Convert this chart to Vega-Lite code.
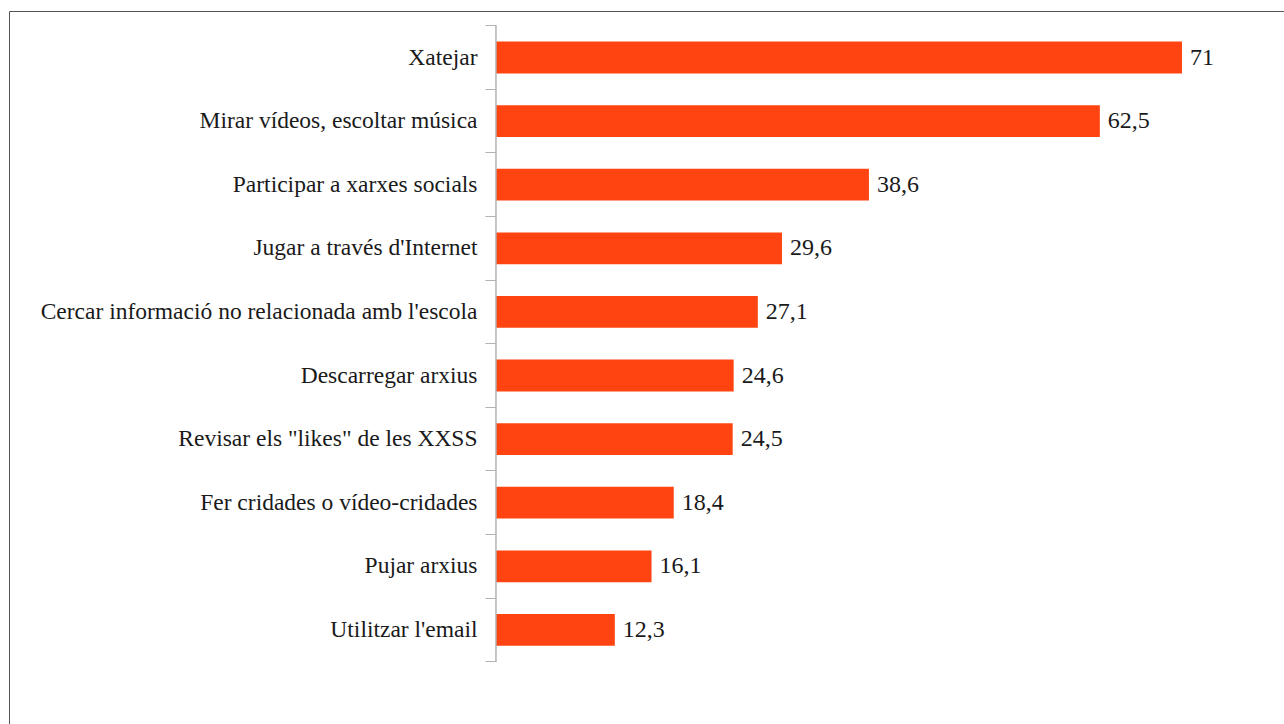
{
  "$schema": "https://vega.github.io/schema/vega-lite/v6.json",
  "autosize": {"type": "none"},
  "padding": {"left": 9, "top": 11, "right": -3, "bottom": -3},
  "width": 1278,
  "height": 716,
  "background": "white",
  "config": {
    "view": {"stroke": "#555555", "strokeWidth": 1},
    "locale": {"number": {"decimal": ",", "thousands": ".", "grouping": [3], "currency": ["", " €"]}}
  },
  "data": {
    "values": [
      {"activitat": "Xatejar", "valor": 71},
      {"activitat": "Mirar vídeos, escoltar música", "valor": 62.5},
      {"activitat": "Participar a xarxes socials", "valor": 38.6},
      {"activitat": "Jugar a través d'Internet", "valor": 29.6},
      {"activitat": "Cercar informació no  relacionada amb l'escola", "valor": 27.1},
      {"activitat": "Descarregar arxius", "valor": 24.6},
      {"activitat": "Revisar els \"likes\" de les XXSS", "valor": 24.5},
      {"activitat": "Fer cridades o vídeo-cridades", "valor": 18.4},
      {"activitat": "Pujar arxius", "valor": 16.1},
      {"activitat": "Utilitzar l'email", "valor": 12.3}
    ]
  },
  "encoding": {
    "y": {
      "field": "activitat",
      "type": "nominal",
      "sort": null,
      "scale": {"paddingInner": 0, "paddingOuter": 0.629, "align": 0.184},
      "axis": {
        "orient": "left",
        "offset": -487,
        "domain": false,
        "ticks": true,
        "tickSize": 11,
        "tickColor": "#b3b3b3",
        "tickWidth": 1,
        "bandPosition": 1,
        "tickExtra": true,
        "labelPadding": 8,
        "labelFont": "Liberation Serif",
        "labelFontSize": 23.5,
        "labelColor": "#1a1a1a",
        "labelLimit": 0,
        "title": null,
        "grid": false
      }
    }
  },
  "layer": [
    {
      "mark": {"type": "bar", "color": "#ff4411", "height": {"band": 0.5}},
      "encoding": {
        "x": {
          "field": "valor",
          "type": "quantitative",
          "scale": {"domain": [-50.4, 81.87], "nice": false, "zero": false},
          "axis": null
        }
      }
    },
    {
      "mark": {"type": "bar", "fill": "white", "fillOpacity": 0, "stroke": "#b3b3b3", "strokeWidth": 1, "height": {"band": 1}},
      "encoding": {
        "x": {"datum": 0},
        "x2": {"datum": 0}
      }
    },
    {
      "mark": {"type": "text", "align": "left", "baseline": "middle", "dx": 8, "font": "Liberation Serif", "fontSize": 24, "color": "#1a1a1a"},
      "encoding": {
        "x": {"field": "valor", "type": "quantitative"},
        "text": {"field": "valor", "type": "quantitative", "format": ".1~f"}
      }
    }
  ]
}
